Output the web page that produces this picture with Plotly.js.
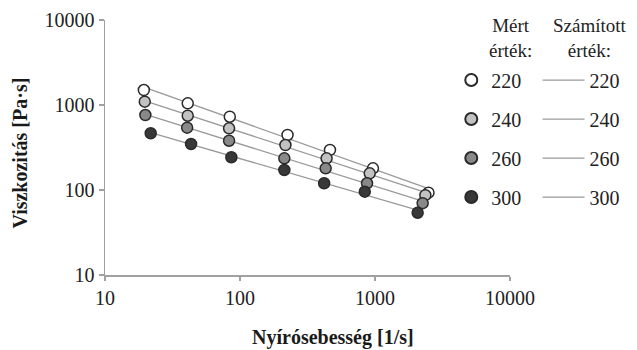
<!DOCTYPE html>
<html>
<head>
<meta charset="utf-8">
<script src="https://cdn.plot.ly/plotly-3.0.1.min.js"></script>
<style>html,body{margin:0;padding:0;background:#fff;}#chart{width:637px;height:350px;}</style>
</head>
<body>
<div id="chart"></div>
<script>
// Measured values (Mért érték)
const series = ["220", "240", "260", "300"];
const x220 = [19.4, 41, 84, 225, 464, 966, 2490];
const y220 = [1500, 1047, 728, 444, 296, 180, 93];
const x240 = [19.7, 41, 83, 217, 438, 914, 2360];
const y240 = [1094, 748, 532, 338, 236, 157, 87];
const x260 = [19.9, 40.6, 83, 213, 431, 873, 2254];
const y260 = [762, 541, 380, 236, 180, 120, 70];
const x300 = [21.8, 43.4, 86.3, 213, 420, 840, 2070];
const y300 = [465, 348, 243, 172, 120, 95.5, 54];
// Calculated values (Számított érték) – fitted line end points
const fitX220 = [19.4, 2490];
const fitY220 = [1626, 104];
const fitX240 = [19.7, 2360];
const fitY240 = [1121, 94];
const fitX260 = [19.9, 2254];
const fitY260 = [775, 74];
const fitX300 = [21.8, 2070];
const fitY300 = [473, 58];
const tickVals = [10, 100, 1000, 10000];
const tickText = ["10", "100", "1000", "10000"];

const fills = ["#ffffff", "#c2c2c2", "#898989", "#383838"];
const mx = [x220, x240, x260, x300];
const my = [y220, y240, y260, y300];
const fx = [fitX220, fitX240, fitX260, fitX300];
const fy = [fitY220, fitY240, fitY260, fitY300];

const FONT = "'Liberation Serif', 'Times New Roman', serif";
const traces = [];
// lines first (behind markers)
for (let i = 0; i < 4; i++) {
  traces.push({
    x: fx[i], y: fy[i], type: "scatter", mode: "lines",
    name: series[i], legend: "legend2", legendgroup: "f" + i,
    line: {color: "#9a9a9a", width: 1.3},
    hoverinfo: "skip"
  });
}
for (let i = 0; i < 4; i++) {
  traces.push({
    x: mx[i], y: my[i], type: "scatter", mode: "markers",
    name: series[i], legend: "legend", legendgroup: "m" + i,
    marker: {size: 11, color: fills[i], line: {color: "#2a2a2a", width: 1.5}}
  });
}

const layout = {
  width: 637, height: 350,
  margin: {l: 105, r: 124, t: 20, b: 75},
  paper_bgcolor: "#fff", plot_bgcolor: "#fff",
  font: {family: FONT, size: 20, color: "#222"},
  showlegend: true,
  legend: {
    x: 0.855, xanchor: "left", y: 0.841, yanchor: "top",
    traceorder: "grouped", tracegroupgap: 10, itemsizing: "constant",
    font: {family: FONT, size: 20, color: "#222"},
    bgcolor: "rgba(0,0,0,0)"
  },
  legend2: {
    x: 1.068, xanchor: "left", y: 0.841, yanchor: "top",
    traceorder: "grouped", tracegroupgap: 10, itemwidth: 42,
    font: {family: FONT, size: 20, color: "#222"},
    bgcolor: "rgba(0,0,0,0)"
  },
  xaxis: {
    type: "log", range: [1, 4], showgrid: false, zeroline: false,
    showline: true, linecolor: "#a0a0a0", linewidth: 1.5,
    ticks: "outside", ticklen: 4, tickcolor: "#a0a0a0", tickwidth: 1.2,
    tickvals: tickVals, ticktext: tickText,
    tickfont: {family: FONT, size: 20, color: "#222"}
  },
  yaxis: {
    type: "log", range: [1, 4], showgrid: false, zeroline: false,
    showline: true, linecolor: "#a0a0a0", linewidth: 1.5,
    ticks: "outside", ticklen: 5, tickcolor: "#a0a0a0", tickwidth: 1.2,
    tickvals: tickVals, ticktext: tickText,
    tickfont: {family: FONT, size: 20, color: "#222"}
  },
  annotations: [
    {text: "<b>Nyírósebesség [1/s]</b>", xref: "paper", yref: "paper",
     x: 0.564, y: -0.245, xanchor: "center", yanchor: "middle", showarrow: false,
     font: {family: FONT, size: 20, color: "#1a1a1a"}},
    {text: "<b>Viszkozitás [Pa·s]</b>", xref: "paper", yref: "paper",
     x: -0.21, y: 0.48, xanchor: "center", yanchor: "middle", showarrow: false, textangle: -90,
     font: {family: FONT, size: 20, color: "#1a1a1a"}},
    {text: "Mért<br>érték:", xref: "paper", yref: "paper", x: 1.0, y: 0.93,
     xanchor: "center", yanchor: "middle", showarrow: false,
     font: {family: FONT, size: 19, color: "#222"}},
    {text: "Számított<br>érték:", xref: "paper", yref: "paper", x: 1.1985, y: 0.93,
     xanchor: "center", yanchor: "middle", showarrow: false,
     font: {family: FONT, size: 19, color: "#222"}}
  ]
};

Plotly.newPlot("chart", traces, layout, {staticPlot: true, displayModeBar: false});
</script>
</body>
</html>
